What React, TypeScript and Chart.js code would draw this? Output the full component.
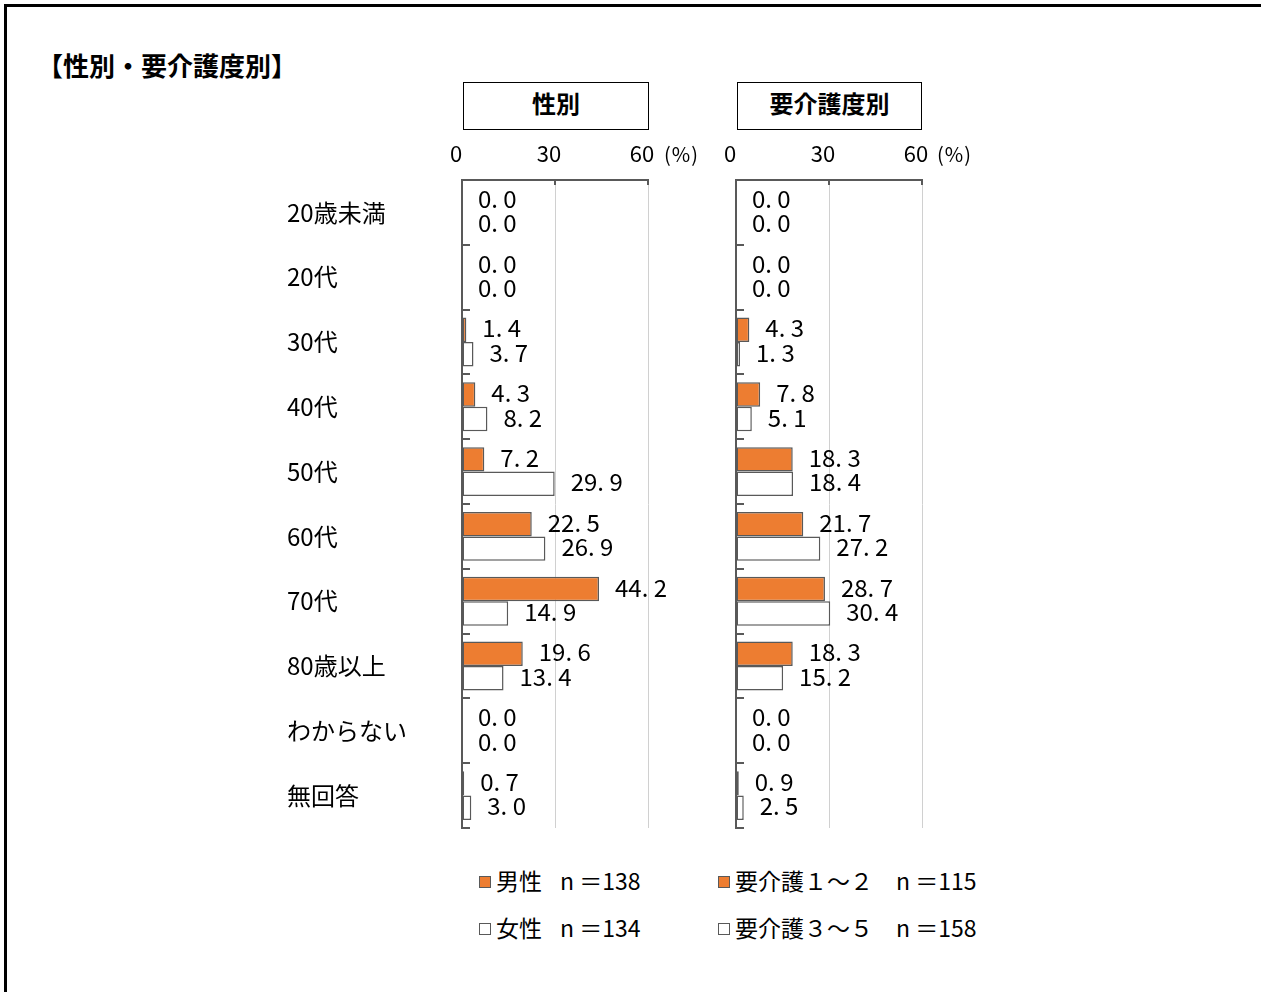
import React, { useEffect, useRef } from "react";
import { Chart, registerables } from "chart.js";

Chart.register(...registerables);

const categories = ["20歳未満", "20代", "30代", "40代", "50代", "60代", "70代", "80歳以上", "わからない", "無回答"];
const maleValues = [0.0, 0.0, 1.4, 4.3, 7.2, 22.5, 44.2, 19.6, 0.0, 0.7];
const femaleValues = [0.0, 0.0, 3.7, 8.2, 29.9, 26.9, 14.9, 13.4, 0.0, 3.0];
const care12Values = [0.0, 0.0, 4.3, 7.8, 18.3, 21.7, 28.7, 18.3, 0.0, 0.9];
const care35Values = [0.0, 0.0, 1.3, 5.1, 18.4, 27.2, 30.4, 15.2, 0.0, 2.5];
const axisTicks = [0, 30, 60];
const axisUnit = "(%)";
const pageTitle = "【性別・要介護度別】";
const panelTitles = ["性別", "要介護度別"];
const seriesNames = ["男性", "女性", "要介護１～２", "要介護３～５"];
const seriesCounts = ["n ＝138", "n ＝134", "n ＝115", "n ＝158"];

const FONT = "'Noto Sans CJK JP', 'Noto Sans', sans-serif";
const ORANGE = "#ED7D31";
const EDGE = "#595959";

const decoPlugin = {
  id: "deco",
  afterDatasetsDraw(chart: any) {
    const ctx = chart.ctx;
    const { top, left } = chart.chartArea;
    ctx.save();
    // inner tick marks
    ctx.strokeStyle = EDGE;
    ctx.lineWidth = 2;
    const xs = chart.scales.x;
    axisTicks.forEach((t) => {
      const px = xs.getPixelForValue(t);
      ctx.beginPath();
      ctx.moveTo(px, top);
      ctx.lineTo(px, top + 5);
      ctx.stroke();
    });
    const ys = chart.scales.y;
    for (let i = 0; i <= categories.length; i++) {
      const py = Math.round(ys.getPixelForValue(i - 0.5));
      ctx.beginPath();
      ctx.moveTo(left, py);
      ctx.lineTo(left + 8, py);
      ctx.stroke();
    }
    // value labels
    ctx.font = "24px " + FONT;
    ctx.fillStyle = "#000";
    ctx.textBaseline = "middle";
    ctx.textAlign = "left";
    chart.data.datasets.forEach((ds: any, di: number) => {
      const meta = chart.getDatasetMeta(di);
      meta.data.forEach((bar: any, i: number) => {
        const v = ds.data[i] as number;
        const text = v.toFixed(1).replace(".", ". ");
        ctx.fillText(text, bar.x + 16, bar.y - 1.5);
      });
    });
    ctx.restore();
  },
};

type PanelProps = {
  left: number;
  yWidth: number;
  showCategories: boolean;
  a: number[];
  b: number[];
  nameA: string;
  nameB: string;
};

const TOP = 130;
const AXIS_H = 50;
const PLOT_W = 186;
const PAD_R = 60;
const PAD_B = 20;
const PLOT_H = 648;

function Panel({ left, yWidth, showCategories, a, b, nameA, nameB }: PanelProps) {
  const ref = useRef<HTMLCanvasElement | null>(null);
  const w = yWidth + PLOT_W + PAD_R;
  const h = AXIS_H + PLOT_H + PAD_B;
  useEffect(() => {
    if (!ref.current) return;
    const chart = new Chart(ref.current, {
      type: "bar",
      data: {
        labels: categories,
        datasets: [
          {
            label: nameA,
            data: a,
            backgroundColor: ORANGE,
            borderColor: EDGE,
            borderWidth: 1.5,
            borderSkipped: false,
            categoryPercentage: 0.755,
            barPercentage: 1,
          },
          {
            label: nameB,
            data: b,
            backgroundColor: "#ffffff",
            borderColor: EDGE,
            borderWidth: 1.5,
            borderSkipped: false,
            categoryPercentage: 0.755,
            barPercentage: 1,
          },
        ],
      },
      options: {
        indexAxis: "y",
        responsive: false,
        maintainAspectRatio: false,
        animation: false,
        layout: { padding: { top: 0, left: 0, right: PAD_R, bottom: PAD_B } },
        plugins: {
          legend: { display: false },
          tooltip: { enabled: false },
        },
        scales: {
          x: {
            position: "top",
            min: 0,
            max: 60,
            afterBuildTicks: (scale: any) => {
              scale.ticks = axisTicks.map((v) => ({ value: v }));
            },
            ticks: {
              color: "#000",
              font: { family: FONT, size: 22 },
              padding: 13,
              labelOffset: -6,
              maxRotation: 0,
              autoSkip: false,
            },
            grid: {
              color: (c: any) => (c.tick && c.tick.value === 0 ? "rgba(0,0,0,0)" : "#d0d0d0"),
              lineWidth: 1,
              drawTicks: false,
            },
            border: { display: true, color: EDGE, width: 2 },
            afterFit: (scale: any) => {
              scale.height = AXIS_H;
            },
          },
          y: {
            ticks: {
              display: showCategories,
              crossAlign: "far",
              color: "#000",
              font: { family: FONT, size: 24 },
              padding: 0,
            },
            grid: { display: false, drawTicks: false },
            border: { display: true, color: EDGE, width: 2 },
            afterFit: (scale: any) => {
              scale.width = yWidth;
            },
          },
        },
      } as any,
      plugins: [decoPlugin],
    });
    return () => chart.destroy();
  }, []);
  return (
    <canvas
      ref={ref}
      width={w}
      height={h}
      style={{ position: "absolute", left, top: TOP, width: w, height: h }}
    />
  );
}

function LegendItem({ x, y, fill, name, count, countX }: any) {
  return (
    <>
      <div
        style={{
          position: "absolute",
          left: x,
          top: y - 6,
          width: 10,
          height: 10,
          background: fill,
          border: "1.5px solid " + EDGE,
        }}
      />
      <div
        style={{
          position: "absolute",
          left: x + 17,
          top: y - 13,
          fontFamily: FONT,
          fontSize: 23,
          lineHeight: "23px",
          color: "#000",
          whiteSpace: "nowrap",
        }}
      >
        {name}
      </div>
      <div
        style={{
          position: "absolute",
          left: countX,
          top: y - 13,
          fontFamily: FONT,
          fontSize: 23,
          lineHeight: "23px",
          color: "#000",
          whiteSpace: "nowrap",
        }}
      >
        {count}
      </div>
    </>
  );
}

export default function App() {
  const boxStyle: any = {
    position: "absolute",
    top: 82,
    height: 46,
    border: "1px solid #000",
    display: "flex",
    alignItems: "center",
    justifyContent: "center",
    boxSizing: "content-box",
    paddingBottom: 0,
    fontFamily: FONT,
    fontWeight: 700,
    fontSize: 24,
    lineHeight: 1,
    color: "#000",
    background: "#fff",
  };
  const unitStyle: any = {
    position: "absolute",
    top: 144,
    fontFamily: FONT,
    fontSize: 20,
    lineHeight: "20px",
    color: "#000",
    letterSpacing: 1,
  };
  return (
    <div
      style={{
        position: "absolute",
        left: 0,
        top: 0,
        width: 1261,
        height: 992,
        overflow: "hidden",
        background: "#fff",
      }}
    >
      <div
        style={{
          position: "absolute",
          left: 4,
          top: 4,
          width: 1300,
          height: 1100,
          borderTop: "3px solid #000",
          borderLeft: "3px solid #000",
        }}
      />
      <div
        style={{
          position: "absolute",
          left: 37,
          top: 52,
          fontFamily: FONT,
          fontWeight: 700,
          fontSize: 26,
          lineHeight: "26px",
          color: "#000",
          whiteSpace: "nowrap",
        }}
      >
        {pageTitle}
      </div>
      <div style={{ ...boxStyle, left: 463, width: 184 }}>
        <span style={{ position: "relative", top: -3 }}>{panelTitles[0]}</span>
      </div>
      <div style={{ ...boxStyle, left: 737, width: 183 }}>
        <span style={{ position: "relative", top: -3 }}>{panelTitles[1]}</span>
      </div>
      <Panel left={287} yWidth={175} showCategories={true} a={maleValues} b={femaleValues} nameA={seriesNames[0]} nameB={seriesNames[1]} />
      <Panel left={716} yWidth={20} showCategories={false} a={care12Values} b={care35Values} nameA={seriesNames[2]} nameB={seriesNames[3]} />
      <div style={{ ...unitStyle, left: 664 }}>{axisUnit}</div>
      <div style={{ ...unitStyle, left: 937 }}>{axisUnit}</div>
      <LegendItem x={479} y={882} fill={ORANGE} name={seriesNames[0]} count={seriesCounts[0]} countX={560} />
      <LegendItem x={479} y={929} fill="#fff" name={seriesNames[1]} count={seriesCounts[1]} countX={560} />
      <LegendItem x={718} y={882} fill={ORANGE} name={seriesNames[2]} count={seriesCounts[2]} countX={896} />
      <LegendItem x={718} y={929} fill="#fff" name={seriesNames[3]} count={seriesCounts[3]} countX={896} />
    </div>
  );
}
